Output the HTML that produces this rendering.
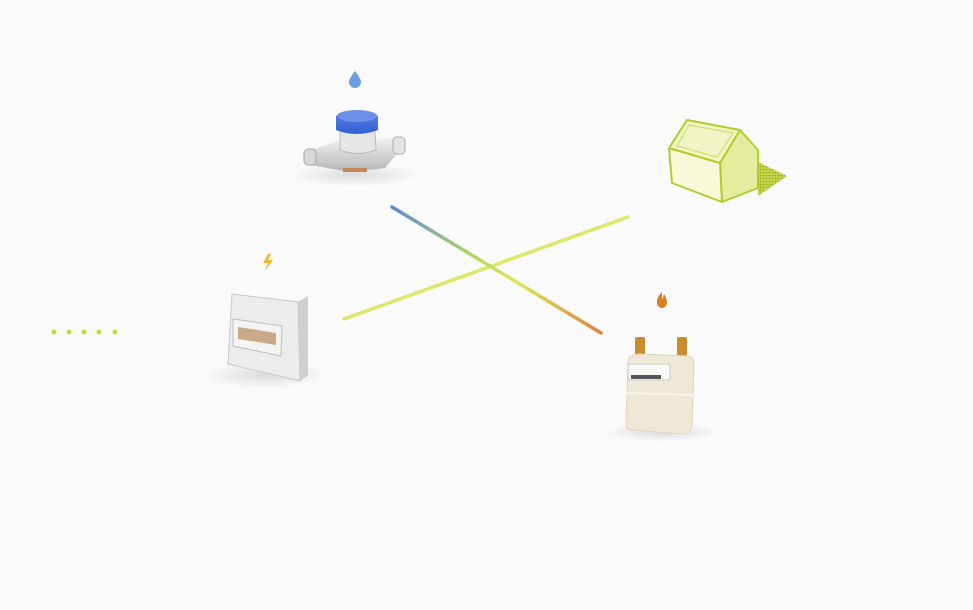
<!DOCTYPE html>
<html><head><meta charset="utf-8"><style>
html,body{margin:0;padding:0;background:#fafafa;}
svg{display:block}
</style></head><body>
<svg width="973" height="610" viewBox="0 0 973 610" xmlns="http://www.w3.org/2000/svg">
<defs>
<linearGradient id="g1" x1="391" y1="207" x2="601" y2="333" gradientUnits="userSpaceOnUse">
<stop offset="0" stop-color="#5b86d6"/><stop offset="0.35" stop-color="#a9d36a"/><stop offset="0.6" stop-color="#dfe65a"/><stop offset="1" stop-color="#e0813a"/>
</linearGradient>
<radialGradient id="sh"><stop offset="0" stop-color="#000" stop-opacity="0.12"/><stop offset="1" stop-color="#000" stop-opacity="0"/></radialGradient>
<linearGradient id="blue" x1="0" y1="0" x2="0" y2="1"><stop offset="0" stop-color="#5d82e6"/><stop offset="1" stop-color="#2f5fd0"/></linearGradient>
<linearGradient id="metal" x1="0" y1="0" x2="0" y2="1"><stop offset="0" stop-color="#f2f2f2"/><stop offset="1" stop-color="#b5b5b5"/></linearGradient>
<pattern id="dots" width="3" height="3" patternUnits="userSpaceOnUse"><rect width="3" height="3" fill="#c4d64a"/><circle cx="1.5" cy="1.5" r="0.8" fill="#8fa61a"/></pattern>
</defs>
<rect width="973" height="610" fill="#fafafa"/>
<line x1="344" y1="319" x2="628" y2="217" stroke="#dbe868" stroke-width="3.5" stroke-linecap="round"/>
<line x1="392" y1="207" x2="601" y2="333" stroke="url(#g1)" stroke-width="3.5" stroke-linecap="round"/>
<g fill="#c5d93a"><circle cx="54" cy="332" r="2.5"/><circle cx="69" cy="332" r="2.5"/><circle cx="84" cy="332" r="2.5"/><circle cx="99" cy="332" r="2.5"/><circle cx="115" cy="332" r="2.5"/></g>
<!-- water meter -->
<ellipse cx="355" cy="175" rx="65" ry="12" fill="url(#sh)"/>
<path d="M355 71 q-6 8 -6 11 a6 6 0 0 0 12 0 q0 -3 -6 -11z" fill="#6a9ee0"/>
<path d="M306 152 L340 140 L395 138 L402 148 L385 168 L350 172 L310 165z" fill="url(#metal)"/>
<rect x="304" y="149" width="12" height="16" rx="4" fill="#d8d8d8" stroke="#aaa"/>
<rect x="393" y="137" width="12" height="17" rx="4" fill="#e4e4e4" stroke="#aaa"/>
<path d="M340 130 L375 130 L376 150 Q358 157 340 150z" fill="#e6e6e6" stroke="#bbb"/>
<path d="M336 116 Q356 106 378 116 L378 130 Q356 138 336 130z" fill="url(#blue)"/>
<ellipse cx="357" cy="116" rx="20" ry="6" fill="#6c8fe8"/>
<rect x="343" y="168" width="24" height="4" fill="#c08a5a"/>
<!-- electric meter -->
<ellipse cx="265" cy="375" rx="62" ry="14" fill="url(#sh)"/>
<path d="M268 254 l-5 9 h5 l-3 8 l8 -11 h-5 l3 -6z" fill="#f0b828"/>
<path d="M232 294 L298 302 L308 296 L308 375 L300 381 L228 364 Z" fill="#d6d6d6"/>
<path d="M232 294 L298 302 L300 381 L228 364 Z" fill="#ececec" stroke="#c8c8c8"/>
<path d="M298 302 L308 296 L308 375 L300 381z" fill="#cfcfcf"/>
<path d="M233 319 L282 326 L281 356 L233 346 Z" fill="#f4f4f4" stroke="#bcbcbc"/>
<path d="M238 327 L276 333 L276 345 L238 339 Z" fill="#c9a987"/>
<!-- gas meter -->
<ellipse cx="662" cy="432" rx="58" ry="10" fill="url(#sh)"/>
<path d="M662 292 q-6 6 -5 11 a5 5 0 0 0 10 0 q0 -4 -3 -9 q-1 4 -2 5z" fill="#d87f22"/>
<rect x="635" y="337" width="10" height="20" rx="2" fill="#c98c2e"/>
<rect x="677" y="337" width="10" height="20" rx="2" fill="#c98c2e"/>
<path d="M628 360 Q630 354 640 354 L688 356 Q694 357 694 365 L692 428 Q690 434 682 434 L632 430 Q626 430 626 424 Z" fill="#efe8d6" stroke="#ddd6c2"/>
<rect x="628" y="364" width="42" height="16" rx="2" fill="#f8f8f6" stroke="#ccc"/>
<rect x="631" y="375" width="30" height="4" fill="#555"/>
<line x1="625" y1="393" x2="696" y2="395" stroke="#f7f3ea" stroke-width="2"/>
<!-- house -->
<path d="M758 162 L787 176 L758 196 Z" fill="url(#dots)"/>
<path d="M720 163 L740 130 L758 150 L758 188 L722 202 Z" fill="#e4ec9e" stroke="#b3cc2a" stroke-width="2" stroke-linejoin="round"/>
<path d="M669 148 L720 163 L722 202 L672 183 Z" fill="#f7f9d9" stroke="#b3cc2a" stroke-width="2" stroke-linejoin="round"/>
<path d="M687 120 L740 130 L720 163 L669 148 Z" fill="#f1f5c6" stroke="#b3cc2a" stroke-width="2" stroke-linejoin="round"/>
<path d="M689 125 L733 133 L717 157 L677 146 Z" fill="none" stroke="#c8da6a" stroke-width="1"/>
</svg>
</body></html>
